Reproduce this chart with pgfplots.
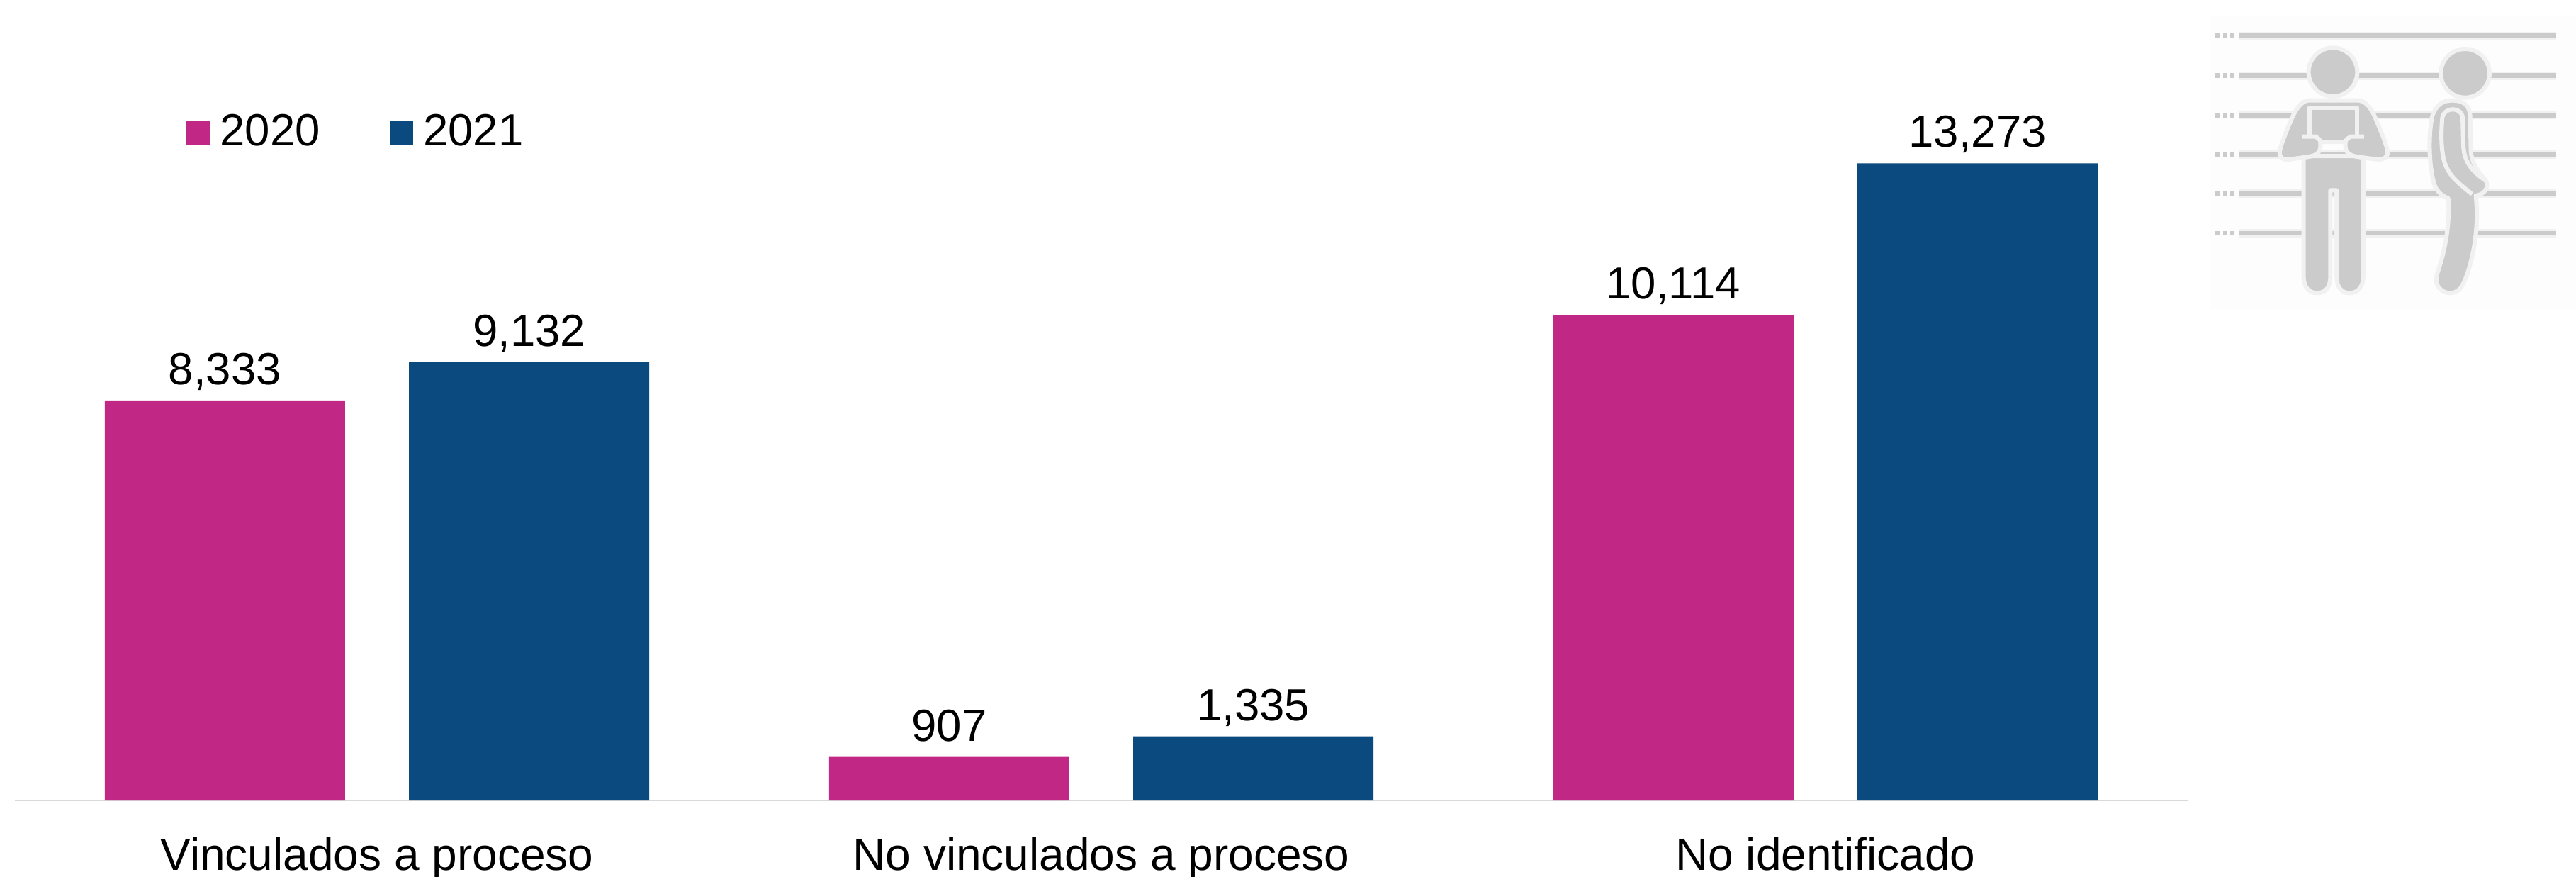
\documentclass[border=0pt]{standalone}
\usepackage{pgfplots}
\pgfplotsset{compat=1.18}
\usepackage{fontspec}
\setmainfont{Liberation Sans}
\definecolor{magbar}{HTML}{C12785}
\definecolor{bluebar}{HTML}{0A4A7E}
\definecolor{icongrey}{HTML}{CBCBCB}
\definecolor{iconline}{HTML}{F1F1F1}
\definecolor{iconbg}{HTML}{FDFDFD}
\pgfplotstableread{
x y2020 y2021
0 8333 9132
1 907 1335
2 10114 13273
}\datatable
\begin{document}
\begin{tikzpicture}[x=1pt,y=1pt]
\path[use as bounding box] (0,0) rectangle (727,247.2);
% pictogram
\fill[iconbg] (623.6,160) rectangle (727,242.6);
\begin{scope}[shift={(617,247.2)},x=0.07015pt,y=-0.06667pt]
  \foreach \yy in {152,320,487,655,820,987}{
    \fill[iconline] (215,\yy-18) rectangle (1487,\yy+18);
    \fill[icongrey] (215,\yy-10) rectangle (1487,\yy+10);
    \foreach \xx in {118,148,178}{\fill[icongrey] (\xx,\yy-10) rectangle (\xx+16,\yy+10);}
  }
  % person 1
  \path[fill=icongrey,draw=iconline,line width=1.2pt,line join=round]
    (590,305) ellipse [x radius=98,y radius=103];
  \path[fill=icongrey,draw=iconline,line width=1.2pt,line join=round]
    (472,660) -- (712,660) -- (712,1170) .. controls (712,1215) and (690,1240) .. (656,1240)
    .. controls (625,1240) and (605,1215) .. (605,1170) -- (605,805) -- (580,805) -- (580,1170)
    .. controls (580,1215) and (560,1240) .. (526,1240) .. controls (495,1240) and (472,1215) .. (472,1170) -- cycle;
  \path[fill=icongrey,draw=iconline,line width=1.2pt,line join=round]
    (490,425) -- (695,425) .. controls (730,430) and (750,470) .. (765,510)
    .. controls (785,560) and (805,610) .. (810,640) .. controls (812,665) and (795,675) .. (770,675)
    -- (700,665) .. controls (660,660) and (640,650) .. (640,615) -- (640,600) -- (540,600) -- (540,615)
    .. controls (540,650) and (520,660) .. (480,665) -- (410,675)
    .. controls (385,675) and (370,665) .. (378,630) .. controls (385,600) and (405,550) .. (425,500)
    .. controls (440,465) and (460,430) .. (490,425) -- cycle;
  \draw[iconline,line width=1.2pt,line join=round] (495,570) -- (495,455) -- (688,455) -- (688,570);
  \draw[iconline,line width=1.2pt] (468,578) -- (520,578) .. controls (540,590) and (540,600) .. (540,600);
  \draw[iconline,line width=1.2pt] (715,578) -- (662,578) .. controls (640,590) and (640,600) .. (640,600);
  % person 2
  \path[fill=icongrey,draw=iconline,line width=1.2pt]
    (1122,310) ellipse [x radius=98,y radius=103];
  \path[fill=icongrey,draw=iconline,line width=1.2pt,line join=round]
    (1070,425) .. controls (1120,425) and (1140,450) .. (1142,490) -- (1145,640)
    .. controls (1148,680) and (1165,715) .. (1190,745) .. controls (1215,770) and (1215,790) .. (1200,810)
    .. controls (1190,822) and (1178,825) .. (1165,828)
    .. controls (1172,900) and (1170,960) .. (1160,1030) .. controls (1150,1100) and (1130,1170) .. (1112,1205)
    .. controls (1090,1250) and (1040,1250) .. (1015,1215) .. controls (1000,1190) and (1005,1170) .. (1015,1140)
    .. controls (1040,1060) and (1060,960) .. (1055,840) .. controls (1020,825) and (1000,800) .. (993,760)
    .. controls (975,680) and (975,560) .. (990,490) .. controls (1005,445) and (1030,425) .. (1070,425) -- cycle;
  \draw[iconline,line width=1.2pt,line join=round]
    (1150,822) .. controls (1090,770) and (1050,740) .. (1035,670) .. controls (1025,620) and (1025,560) .. (1030,500)
    .. controls (1035,450) and (1110,450) .. (1112,500) -- (1115,620) .. controls (1118,670) and (1135,715) .. (1205,765);
\end{scope}
\begin{axis}[
  at={(4.2pt,21.4pt)},anchor=south west,
  scale only axis,width=613.2,height=203.1,
  xmin=-0.5,xmax=2.5,ymin=0,ymax=15000,
  hide y axis,
  axis x line*=bottom,
  x axis line style={-,color=black!15,line width=0.45pt},
  xtick={0,1,2},
  xticklabels={Vinculados a proceso,No vinculados a proceso,No identificado},
  major tick length=0pt,
  xticklabel style={anchor=base,yshift=-19.6pt,font=\fontsize{12.8}{15}\selectfont},
  ybar,
  bar width=0.3317,
  clip=false,
  nodes near coords,
  every node near coord/.append style={font=\fontsize{12.7}{15}\selectfont,anchor=base,yshift=4.5pt,black},
  /pgf/number format/.cd,fixed,precision=0,1000 sep={,},assume math mode=true,
  /pgfplots/.cd,
  legend columns=2,
  legend style={at={(0.0789,0.963)},anchor=north west,draw=none,fill=none,inner sep=0pt,outer sep=0pt,
    font=\fontsize{12.7}{15}\selectfont,
    /tikz/every even column/.style={column sep=17.6pt},
    /tikz/column 2/.style={column sep=17.6pt}},
  legend image code/.code={\fill[#1] (0pt,-3.3pt) rectangle (6.6pt,3.3pt);\path (7.5pt,0pt);},
]
\addplot[fill=magbar,draw=none,bar shift=-0.21] table[x=x,y=y2020]{\datatable};
\addlegendentry{2020}
\addplot[fill=bluebar,draw=none,bar shift=0.21] table[x=x,y=y2021]{\datatable};
\addlegendentry{2021}
\end{axis}
\end{tikzpicture}
\end{document}
